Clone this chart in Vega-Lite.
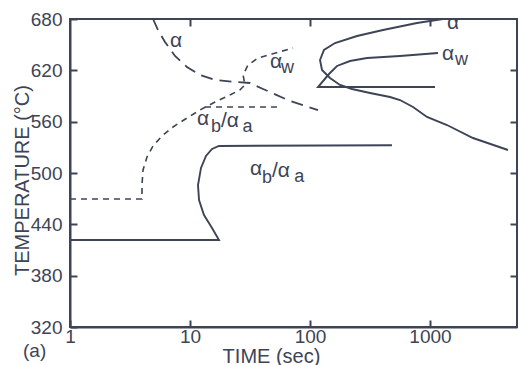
{
  "$schema": "https://vega.github.io/schema/vega-lite/v6.json",
  "width": 447,
  "height": 308,
  "autosize": {"type": "none"},
  "padding": {"left": 70, "top": 19, "right": 2, "bottom": 38},
  "background": "white",
  "config": {
    "view": {"stroke": "#3d4456", "strokeWidth": 2},
    "font": "Liberation Sans",
    "axis": {"grid": false}
  },
  "datasets": {
    "curves": [
      {"curve": "alpha_dashed", "t": 4.92, "T": 680},
      {"curve": "alpha_dashed", "t": 5.41, "T": 667.1},
      {"curve": "alpha_dashed", "t": 6.19, "T": 653.1},
      {"curve": "alpha_dashed", "t": 7.5, "T": 636.8},
      {"curve": "alpha_dashed", "t": 9.44, "T": 623.9},
      {"curve": "alpha_dashed", "t": 12.12, "T": 614.5},
      {"curve": "alpha_dashed", "t": 16.16, "T": 608.7},
      {"curve": "alpha_dashed", "t": 23.71, "T": 606.4},
      {"curve": "alpha_dashed", "t": 31.6, "T": 605.2},
      {"curve": "alpha_dashed", "t": 40.6, "T": 598.2},
      {"curve": "alpha_dashed", "t": 68.1, "T": 584.2},
      {"curve": "alpha_dashed", "t": 116.6, "T": 573.6},

      {"curve": "ab_dashed", "t": 1, "T": 469.6},
      {"curve": "ab_dashed", "t": 3.98, "T": 469.6},
      {"curve": "ab_dashed", "t": 3.98, "T": 486.0},
      {"curve": "ab_dashed", "t": 4.06, "T": 503.5},
      {"curve": "ab_dashed", "t": 4.38, "T": 518.7},
      {"curve": "ab_dashed", "t": 4.92, "T": 531.6},
      {"curve": "ab_dashed", "t": 5.84, "T": 543.2},
      {"curve": "ab_dashed", "t": 7.22, "T": 553.8},
      {"curve": "ab_dashed", "t": 9.44, "T": 564.3},
      {"curve": "ab_dashed", "t": 12.12, "T": 573.6},
      {"curve": "ab_dashed", "t": 16.16, "T": 583.0},
      {"curve": "ab_dashed", "t": 21.5, "T": 591.2},
      {"curve": "ab_dashed", "t": 26.0, "T": 597.0},
      {"curve": "ab_dashed", "t": 28.7, "T": 602.9},
      {"curve": "ab_dashed", "t": 27.7, "T": 614.5},
      {"curve": "ab_dashed", "t": 30.4, "T": 626.2},
      {"curve": "ab_dashed", "t": 36.9, "T": 634.4},
      {"curve": "ab_dashed", "t": 48.2, "T": 639.1},
      {"curve": "ab_dashed", "t": 72.2, "T": 646.1},

      {"curve": "ab_hline_dashed", "t": 13.34, "T": 577.1},
      {"curve": "ab_hline_dashed", "t": 56.2, "T": 577.1},

      {"curve": "ab_solid", "t": 1, "T": 421.7},
      {"curve": "ab_solid", "t": 17.44, "T": 421.7},
      {"curve": "ab_solid", "t": 15.26, "T": 435.7},
      {"curve": "ab_solid", "t": 13.08, "T": 450.9},
      {"curve": "ab_solid", "t": 11.89, "T": 468.4},
      {"curve": "ab_solid", "t": 11.66, "T": 486.0},
      {"curve": "ab_solid", "t": 12.35, "T": 505.9},
      {"curve": "ab_solid", "t": 13.59, "T": 519.9},
      {"curve": "ab_solid", "t": 15.26, "T": 528.1},
      {"curve": "ab_solid", "t": 17.44, "T": 531.6},
      {"curve": "ab_solid", "t": 482, "T": 532.5},

      {"curve": "alpha_solid", "t": 1283, "T": 680},
      {"curve": "alpha_solid", "t": 779, "T": 675.3},
      {"curve": "alpha_solid", "t": 406, "T": 667.1},
      {"curve": "alpha_solid", "t": 246.5, "T": 660.1},
      {"curve": "alpha_solid", "t": 161.6, "T": 651.9},
      {"curve": "alpha_solid", "t": 130.8, "T": 643.8},
      {"curve": "alpha_solid", "t": 121.2, "T": 632.1},
      {"curve": "alpha_solid", "t": 125.9, "T": 620.4},
      {"curve": "alpha_solid", "t": 146.8, "T": 611.0},
      {"curve": "alpha_solid", "t": 177.8, "T": 602.9},
      {"curve": "alpha_solid", "t": 223.9, "T": 598.2},
      {"curve": "alpha_solid", "t": 316.2, "T": 593.5},
      {"curve": "alpha_solid", "t": 464.2, "T": 588.8},
      {"curve": "alpha_solid", "t": 562.3, "T": 585.3},
      {"curve": "alpha_solid", "t": 721.8, "T": 577.1},
      {"curve": "alpha_solid", "t": 944, "T": 565.5},
      {"curve": "alpha_solid", "t": 1386, "T": 556.1},
      {"curve": "alpha_solid", "t": 2282, "T": 540.9},
      {"curve": "alpha_solid", "t": 4467, "T": 526.9},

      {"curve": "aw_solid", "t": 1166, "T": 640.3},
      {"curve": "aw_solid", "t": 562.3, "T": 636.8},
      {"curve": "aw_solid", "t": 298.5, "T": 634.4},
      {"curve": "aw_solid", "t": 215.4, "T": 630.9},
      {"curve": "aw_solid", "t": 167.9, "T": 625.1},
      {"curve": "aw_solid", "t": 144, "T": 615.7},
      {"curve": "aw_solid", "t": 116.6, "T": 600.5},
      {"curve": "aw_solid", "t": 1101, "T": 600.5}
    ],
    "labels": [
      {"t": 6.81, "T": 647.3, "text": "α"},
      {"t": 1386, "T": 668.3, "text": "α"},
      {"t": 46.4, "T": 622.7, "text": "α"},
      {"t": 1259, "T": 632.1, "text": "α"},
      {"t": 11.44, "T": 556.1, "text": "α"},
      {"t": 18.13, "T": 553.8, "text": "/α"},
      {"t": 31.6, "T": 497.7, "text": "α"},
      {"t": 48.2, "T": 495.3, "text": "/α"}
    ],
    "subs": [
      {"t": 57.3, "T": 616.9, "text": "w"},
      {"t": 1616, "T": 626.2, "text": "w"},
      {"t": 14.96, "T": 547.9, "text": "b"},
      {"t": 27.4, "T": 547.9, "text": "a"},
      {"t": 39.8, "T": 488.3, "text": "b"},
      {"t": 74.0, "T": 489.5, "text": "a"}
    ],
    "panel": [
      {"t": 0.406, "T": 284.5, "text": "(a)"}
    ]
  },
  "layer": [
    {
      "data": {"name": "curves"},
      "transform": [{"filter": "datum.curve === 'alpha_solid'"}],
      "mark": {"type": "line", "color": "#3d4456", "strokeWidth": 1.9},
      "encoding": {
        "x": {
          "field": "t", "type": "quantitative",
          "scale": {"type": "log", "domain": [1, 5309], "nice": false},
          "axis": {
            "orient": "bottom",
            "values": [1, 10, 100, 1000],
            "format": "d",
            "tickSize": -7,
            "tickWidth": 2,
            "tickColor": "#3d4456",
            "domainColor": "#3d4456",
            "domainWidth": 2,
            "labelPadding": 7,
            "labelFont": "Liberation Sans",
            "labelFontSize": 19,
            "labelColor": "#3d4456",
            "labelFlush": false,
            "labelOverlap": false,
            "title": "TIME (sec)",
            "titleFont": "Liberation Sans",
            "titleFontSize": 20,
            "titleFontWeight": "normal",
            "titleColor": "#3d4456",
            "titleX": 201,
            "titleY": 35,
            "titleAlign": "center",
            "titleBaseline": "alphabetic"
          }
        },
        "y": {
          "field": "T", "type": "quantitative",
          "scale": {"domain": [320, 680], "nice": false, "zero": false},
          "axis": {
            "orient": "left",
            "values": [320, 380, 440, 500, 560, 620, 680],
            "tickSize": -7,
            "tickWidth": 2,
            "tickColor": "#3d4456",
            "domainColor": "#3d4456",
            "domainWidth": 2,
            "labelPadding": 15,
            "labelFont": "Liberation Sans",
            "labelFontSize": 19,
            "labelColor": "#3d4456",
            "labelFlush": false,
            "labelOverlap": false,
            "title": "TEMPERATURE (°C)",
            "titleFont": "Liberation Sans",
            "titleFontSize": 20,
            "titleFontWeight": "normal",
            "titleColor": "#3d4456",
            "titleAngle": 270,
            "titleX": -48,
            "titleY": 161,
            "titleAlign": "center",
            "titleBaseline": "middle"
          }
        },
        "order": {"value": null}
      }
    },
    {
      "data": {"name": "curves"},
      "transform": [{"filter": "datum.curve === 'alpha_dashed'"}],
      "mark": {"type": "line", "color": "#3d4456", "strokeWidth": 1.8, "strokeDash": [12, 7]},
      "encoding": {
        "x": {
          "field": "t", "type": "quantitative",
          "axis": {
            "orient": "top", "offset": -7, "values": [10, 100, 1000], "labels": true, "labelOpacity": 0, "title": "",
            "domain": false, "tickSize": 7, "tickWidth": 2, "tickColor": "#3d4456"
          }
        },
        "y": {
          "field": "T", "type": "quantitative",
          "axis": {
            "orient": "right", "offset": -7, "values": [380, 440, 500, 560, 620], "labels": true, "labelOpacity": 0, "title": "",
            "domain": false, "tickSize": 7, "tickWidth": 2, "tickColor": "#3d4456"
          }
        },
        "order": {"value": null}
      }
    },
    {
      "data": {"name": "curves"},
      "transform": [{"filter": "datum.curve === 'ab_solid'"}],
      "mark": {"type": "line", "color": "#3d4456", "strokeWidth": 1.9},
      "encoding": {
        "x": {"field": "t", "type": "quantitative", "axis": null},
        "y": {"field": "T", "type": "quantitative", "axis": null},
        "order": {"value": null}
      }
    },
    {
      "data": {"name": "curves"},
      "transform": [{"filter": "datum.curve === 'aw_solid'"}],
      "mark": {"type": "line", "color": "#3d4456", "strokeWidth": 1.9},
      "encoding": {
        "x": {"field": "t", "type": "quantitative", "axis": null},
        "y": {"field": "T", "type": "quantitative", "axis": null},
        "order": {"value": null}
      }
    },
    {
      "data": {"name": "curves"},
      "transform": [{"filter": "datum.curve === 'ab_dashed'"}],
      "mark": {"type": "line", "color": "#3d4456", "strokeWidth": 1.6, "strokeDash": [6, 5]},
      "encoding": {
        "x": {"field": "t", "type": "quantitative", "axis": null},
        "y": {"field": "T", "type": "quantitative", "axis": null},
        "order": {"value": null}
      }
    },
    {
      "data": {"name": "curves"},
      "transform": [{"filter": "datum.curve === 'ab_hline_dashed'"}],
      "mark": {"type": "line", "color": "#3d4456", "strokeWidth": 1.6, "strokeDash": [6, 5]},
      "encoding": {
        "x": {"field": "t", "type": "quantitative", "axis": null},
        "y": {"field": "T", "type": "quantitative", "axis": null},
        "order": {"value": null}
      }
    },
    {
      "data": {"name": "labels"},
      "mark": {"type": "text", "align": "left", "baseline": "alphabetic", "font": "Liberation Sans", "fontSize": 21, "color": "#3d4456"},
      "encoding": {
        "x": {"field": "t", "type": "quantitative", "axis": null},
        "y": {"field": "T", "type": "quantitative", "axis": null},
        "text": {"field": "text"}
      }
    },
    {
      "data": {"name": "subs"},
      "mark": {"type": "text", "align": "left", "baseline": "alphabetic", "font": "Liberation Sans", "fontSize": 18, "color": "#3d4456"},
      "encoding": {
        "x": {"field": "t", "type": "quantitative", "axis": null},
        "y": {"field": "T", "type": "quantitative", "axis": null},
        "text": {"field": "text"}
      }
    },
    {
      "data": {"name": "panel"},
      "mark": {"type": "text", "align": "left", "baseline": "alphabetic", "font": "Liberation Sans", "fontSize": 19, "color": "#3d4456"},
      "encoding": {
        "x": {"field": "t", "type": "quantitative", "axis": null},
        "y": {"field": "T", "type": "quantitative", "axis": null},
        "text": {"field": "text"}
      }
    }
  ]
}
